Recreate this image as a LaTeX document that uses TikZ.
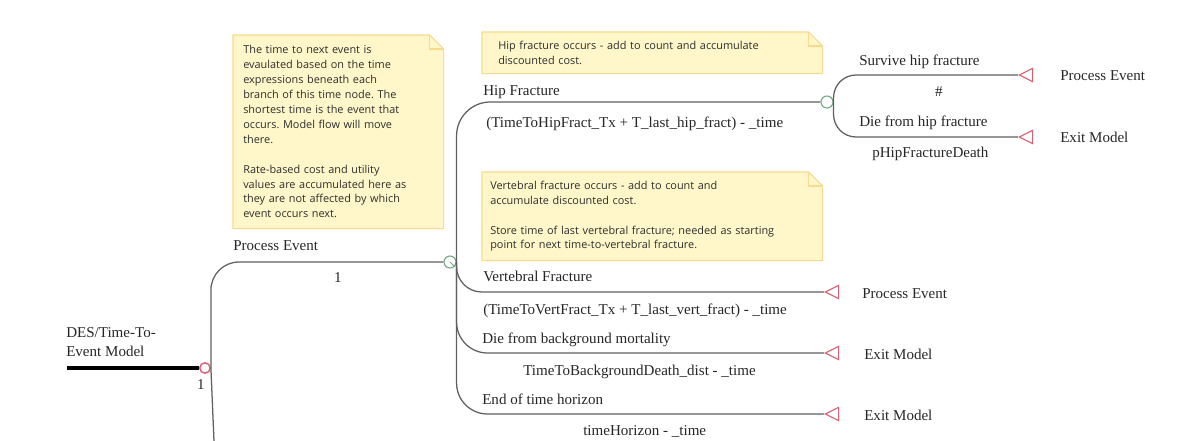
\documentclass[tikz,border=0pt]{standalone}
\usepackage{fontspec}
\setmainfont{Liberation Serif}
\newfontfamily\notefont{Open Sans}
\usetikzlibrary{shapes.geometric}
\definecolor{note_fill}{RGB}{255, 247, 201}
\definecolor{note_line}{RGB}{247, 218, 142}
\definecolor{tree_green}{RGB}{118, 168, 134}
\definecolor{tree_red}{RGB}{222, 96, 112}
\definecolor{branch_grey}{RGB}{96, 96, 96}
\tikzstyle{cn}=[circle,draw=tree_green,fill=white,
  line width=0.8 pt,inner sep=0pt,minimum size=0.3cm]
\tikzstyle{tn}=[cn,path picture={\draw[tree_green,line width=0.7pt]
  (path picture bounding box.center) -- ++(4,4);}]
\tikzstyle{mn}=[circle,draw=tree_red,fill=white,
  line width=1 pt,inner sep=0pt,minimum size=0.26cm]
\tikzstyle{term}=[isosceles triangle,isosceles triangle stretches,
  shape border rotate=180,draw=tree_red,fill=white,
  line width=0.8 pt,inner sep=0pt,minimum size=0.33cm,anchor=apex]
\tikzstyle{branch}=[draw=branch_grey,line width=0.9 pt]
\tikzstyle{stub}=[draw=black,line width=2.2 pt]
\tikzstyle{lbl}=[inner sep=0pt,anchor=base west,text=black!85,
  font=\fontsize{10.7}{13.5}\selectfont]
\tikzstyle{note}=[rectangle,fill=note_fill,anchor=north west,align=left,
  inner ysep=0pt,text=black!82,
  font=\notefont\frenchspacing\fontsize{7.75}{10.6}\selectfont]
\tikzstyle{none}=[]
\newcommand{\notefold}[1]{%
  \fill[white] ([xshift=-0.35cm]#1.north east) -- (#1.north east)
    -- ([yshift=-0.35cm]#1.north east) -- cycle;
  \draw[note_line,line width=0.8pt] (#1.south west) -- (#1.north west)
    -- ([xshift=-0.35cm]#1.north east) -- ([yshift=-0.35cm]#1.north east)
    -- (#1.south east) -- cycle;
  \draw[note_line,line width=0.8pt] ([xshift=-0.35cm]#1.north east)
    |- ([yshift=-0.35cm]#1.north east);}
\begin{document}
\begin{tikzpicture}[x=0.025cm,y=-0.025cm]
		\useasboundingbox (0,0) rectangle (1193,441);
		% notes
		\node [style=note,minimum width=5.25cm,minimum height=4.825cm,
		  inner xsep=0.25cm,text width=4.75cm] (31) at (233,35) {The time to next event is\\
		  evaulated based on the time\\
		  expressions beneath each\\
		  branch of this time node. The\\
		  shortest time is the event that\\
		  occurs. Model flow will move\\
		  there.\\[10.6pt]
		  Rate-based cost and utility\\
		  values are accumulated here as\\
		  they are not affected by which\\
		  event occurs next.};
		\notefold{31}
		\node [style=note,minimum width=8.5cm,minimum height=1.025cm,
		  inner xsep=0.4cm,text width=7.7cm] (32) at (482,32) {Hip fracture occurs - add to count and accumulate\\
		  discounted cost.};
		\notefold{32}
		\node [style=note,minimum width=8.5cm,minimum height=2.2cm,
		  inner xsep=0.2cm,text width=8.1cm] (33) at (482,172) {Vertebral fracture occurs - add to count and\\
		  accumulate discounted cost.\\[10.6pt]
		  Store time of last vertebral fracture; needed as starting\\
		  point for next time-to-vertebral fracture.};
		\notefold{33}
		% tree nodes
		\node [style=none] (0) at (67,368) {};
		\node [style=mn] (1) at (205,368) {};
		\node [style=none] (2) at (214,441) {};
		\node [style=tn] (3) at (450,262) {};
		\node [style=cn] (4) at (827,102) {};
		\node [style=term] (5) at (824,292) {};
		\node [style=term] (6) at (824,353) {};
		\node [style=term] (7) at (824,414) {};
		\node [style=term] (8) at (1018,75) {};
		\node [style=term] (9) at (1018,137) {};
		% branches
		\draw [style=stub] (0.center) to (1.west);
		\draw [style=branch,rounded corners=20pt] (1.east) |- (3.west);
		\draw [style=branch] (1.east) to (2.center);
		\draw [style=branch,rounded corners=24pt] (3.east) |- (4.west);
		\draw [style=branch,rounded corners=18pt] (3.east) |- (5.apex);
		\draw [style=branch,rounded corners=22pt] (3.east) |- (6.apex);
		\draw [style=branch,rounded corners=22pt] (3.east) |- (7.apex);
		\draw [style=branch,rounded corners=16pt] (4.east) |- (8.apex);
		\draw [style=branch,rounded corners=16pt] (4.east) |- (9.apex);
		% labels
		\node [style=lbl,anchor=south west,align=left] (10) at (66,357) {DES/Time-To-\\Event Model};
		\node [style=lbl,anchor=base] (11) at (201,389) {1};
		\node [style=lbl] (12) at (233,250) {Process Event};
		\node [style=lbl,anchor=base] (13) at (338,282) {1};
		\node [style=lbl] (14) at (483,95) {Hip Fracture};
		\node [style=lbl] (15) at (486,127) {(TimeToHipFract\_Tx + T\_last\_hip\_fract) - \_time};
		\node [style=lbl] (16) at (483,281) {Vertebral Fracture};
		\node [style=lbl] (17) at (483,314) {(TimeToVertFract\_Tx + T\_last\_vert\_fract) - \_time};
		\node [style=lbl] (18) at (482,343) {Die from background mortality};
		\node [style=lbl] (19) at (523,375) {TimeToBackgroundDeath\_dist - \_time};
		\node [style=lbl] (20) at (482,404) {End of time horizon};
		\node [style=lbl] (21) at (583,435) {timeHorizon - \_time};
		\node [style=lbl] (22) at (859,65) {Survive hip fracture};
		\node [style=lbl,anchor=base] (23) at (939,96) {\#};
		\node [style=lbl] (24) at (859,126) {Die from hip fracture};
		\node [style=lbl] (25) at (872,157) {pHipFractureDeath};
		\node [style=lbl] (26) at (1060,80) {Process Event};
		\node [style=lbl] (27) at (1060,142) {Exit Model};
		\node [style=lbl] (28) at (862,298) {Process Event};
		\node [style=lbl] (29) at (864,359) {Exit Model};
		\node [style=lbl] (30) at (864,420) {Exit Model};
\end{tikzpicture}
\end{document}
